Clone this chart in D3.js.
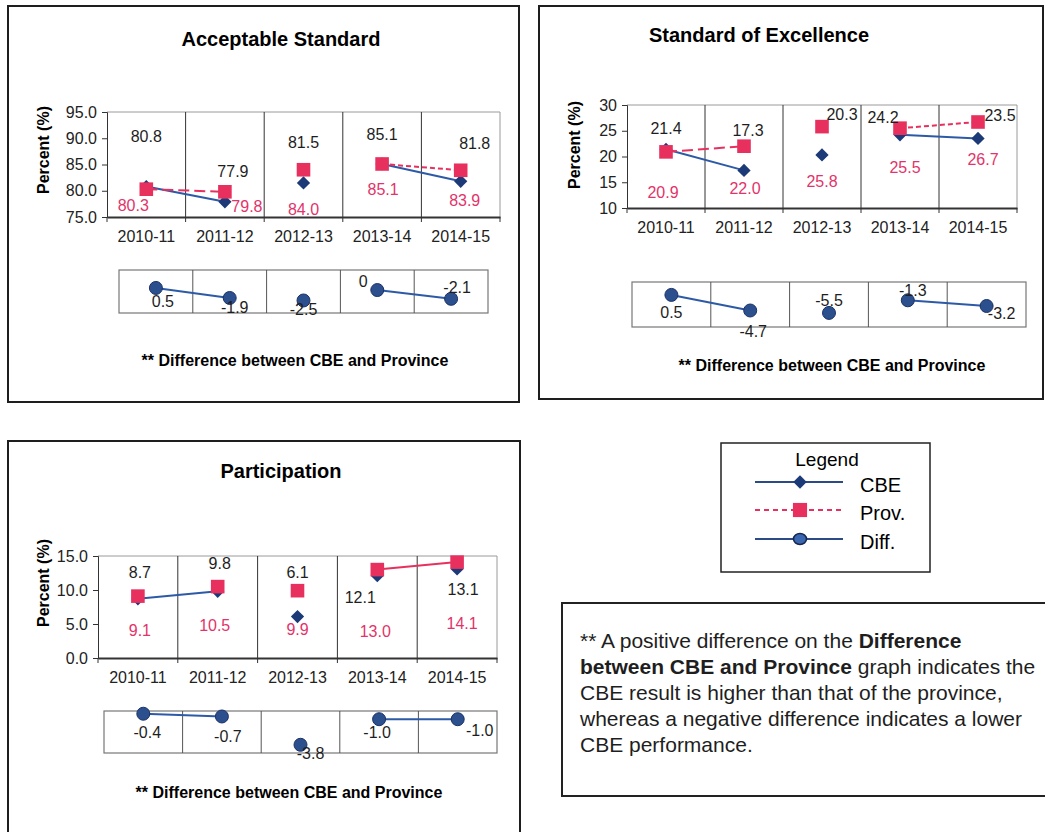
<!DOCTYPE html>
<html>
<head>
<meta charset="utf-8">
<script src="https://cdn.jsdelivr.net/npm/d3@7"></script>
<style>
  body { margin: 0; background: #fff; }
  text { font-family: "Liberation Sans", Arial, sans-serif; }
</style>
</head>
<body>
<script>
// categories
var years = ["2010-11", "2011-12", "2012-13", "2013-14", "2014-15"];

// Acceptable Standard
var accCBE  = [80.8, 77.9, 81.5, 85.1, 81.8];
var accProv = [80.3, 79.8, 84.0, 85.1, 83.9];
var accDiff = [0.5, -1.9, -2.5, 0, -2.1];
var accTicks = [75, 80, 85, 90, 95];

// Standard of Excellence
var excCBE  = [21.4, 17.3, 20.3, 24.2, 23.5];
var excProv = [20.9, 22.0, 25.8, 25.5, 26.7];
var excDiff = [0.5, -4.7, -5.5, -1.3, -3.2];
var excTicks = [10, 15, 20, 25, 30];

// Participation
var parCBE  = [8.7, 9.8, 6.1, 12.1, 13.1];
var parProv = [9.1, 10.5, 9.9, 13.0, 14.1];
var parDiff = [-0.4, -0.7, -3.8, -1.0, -1.0];
var parTicks = [0, 5, 10, 15];

var navy = "#1c3a78", blue = "#2d5aa6", pink = "#e8305f", pinkText = "#e2336a";

var svg = d3.select("body")
  .append("svg")
  .attr("width", 1045)
  .attr("height", 832);

function fmt1(d) { return d.toFixed(1); }
function fmtDiff(d) { return d === 0 ? "0" : d.toFixed(1); }

function drawPanel(p) {
  var g = svg.append("g");

  // outer frame
  g.append("rect")
    .attr("x", p.box[0]).attr("y", p.box[1])
    .attr("width", p.box[2] - p.box[0]).attr("height", p.box[3] - p.box[1])
    .attr("fill", "none").attr("stroke", "#1e1e1e").attr("stroke-width", 2);

  g.append("text")
    .attr("x", p.titleX).attr("y", p.titleY)
    .attr("text-anchor", "middle")
    .attr("font-size", 20).attr("font-weight", "bold")
    .text(p.title);

  // main chart
  var x = d3.scaleBand().domain(years).range([p.plot[0], p.plot[1]]);
  var y = d3.scaleLinear().domain(p.domain).range([p.plot[3], p.plot[2]]);
  var cx = function (i) { return x(years[i]) + x.bandwidth() / 2; };

  // top / right frame
  g.append("path")
    .attr("d", "M" + p.plot[0] + "," + p.plot[2] + "H" + p.plot[1] + "V" + p.plot[3])
    .attr("fill", "none").attr("stroke", "#9a9a9a").attr("stroke-width", 1);

  // category separators
  g.selectAll(".sep")
    .data(years.slice(1))
    .enter().append("line")
    .attr("x1", function (d) { return x(d); })
    .attr("x2", function (d) { return x(d); })
    .attr("y1", p.plot[2]).attr("y2", p.plot[3] + 5)
    .attr("stroke", "#333").attr("stroke-width", 1);

  var yAxis = d3.axisLeft(y).tickValues(p.ticks).tickFormat(p.tickFmt).tickSize(5).tickPadding(5);
  var ya = g.append("g").attr("transform", "translate(" + p.plot[0] + ",0)").call(yAxis);
  ya.selectAll("text").attr("font-size", 16).attr("fill", "#222");
  ya.select(".domain").attr("stroke", "#333");
  ya.selectAll(".tick line").attr("stroke", "#333");

  var xAxis = d3.axisBottom(x).tickSize(0).tickPadding(14);
  var xa = g.append("g").attr("transform", "translate(0," + p.plot[3] + ")").call(xAxis);
  xa.selectAll("text").attr("font-size", 16).attr("fill", "#222");
  xa.select(".domain").attr("stroke", "#333").attr("stroke-width", 2);
  g.selectAll(".xt")
    .data([p.plot[0], p.plot[1]])
    .enter().append("line")
    .attr("x1", function (d) { return d; }).attr("x2", function (d) { return d; })
    .attr("y1", p.plot[3]).attr("y2", p.plot[3] + 5)
    .attr("stroke", "#333");

  g.append("text")
    .attr("transform", "translate(" + p.yLabel[0] + "," + p.yLabel[1] + ") rotate(-90)")
    .attr("text-anchor", "middle").attr("dominant-baseline", "central")
    .attr("font-size", 16).attr("font-weight", "bold")
    .text("Percent (%)");

  var line = d3.line()
    .x(function (d) { return cx(d.i); })
    .y(function (d) { return y(d.v); });

  // CBE lines and diamonds
  p.cbeSegs.forEach(function (s) {
    g.append("path")
      .attr("d", line([{ i: s[0], v: p.cbe[s[0]] }, { i: s[1], v: p.cbe[s[1]] }]))
      .attr("fill", "none").attr("stroke", blue).attr("stroke-width", 2);
  });
  g.selectAll(".cbe")
    .data(p.cbe)
    .enter().append("path")
    .attr("d", d3.symbol(d3.symbolSquare, 88))
    .attr("transform", function (d, i) { return "translate(" + cx(i) + "," + y(d) + ") rotate(45)"; })
    .attr("fill", navy);

  // Province lines and squares
  p.provSegs.forEach(function (s) {
    g.append("path")
      .attr("d", line([{ i: s.a, v: p.prov[s.a] }, { i: s.b, v: p.prov[s.b] }]))
      .attr("fill", "none").attr("stroke", pink).attr("stroke-width", 2)
      .attr("stroke-dasharray", s.dash);
  });
  g.selectAll(".prov")
    .data(p.prov)
    .enter().append("path")
    .attr("d", d3.symbol(d3.symbolSquare, 185))
    .attr("transform", function (d, i) { return "translate(" + cx(i) + "," + y(d) + ")"; })
    .attr("fill", pink);

  // data labels
  g.selectAll(".cbeLab")
    .data(p.cbe)
    .enter().append("text")
    .attr("x", function (d, i) { return cx(i) + p.cbeOff[i][0]; })
    .attr("y", function (d, i) { return y(d) + p.cbeOff[i][1]; })
    .attr("text-anchor", "middle").attr("dominant-baseline", "central")
    .attr("font-size", 16).attr("fill", "#1e1e1e")
    .text(fmt1);
  g.selectAll(".provLab")
    .data(p.prov)
    .enter().append("text")
    .attr("x", function (d, i) { return cx(i) + p.provOff[i][0]; })
    .attr("y", function (d, i) { return y(d) + p.provOff[i][1]; })
    .attr("text-anchor", "middle").attr("dominant-baseline", "central")
    .attr("font-size", 16).attr("fill", pinkText)
    .text(fmt1);

  // difference strip
  var dx = d3.scaleBand().domain(years).range([p.diffBox[0], p.diffBox[1]]);
  var dy = d3.scaleLinear().domain(p.diffDomain).range([p.diffBox[3], p.diffBox[2]]);
  var dcx = function (i) { return dx(years[i]) + dx.bandwidth() / 2; };

  g.append("rect")
    .attr("x", p.diffBox[0]).attr("y", p.diffBox[2])
    .attr("width", p.diffBox[1] - p.diffBox[0]).attr("height", p.diffBox[3] - p.diffBox[2])
    .attr("fill", "none").attr("stroke", "#777").attr("stroke-width", 1.2);
  g.selectAll(".dsep")
    .data(years.slice(1))
    .enter().append("line")
    .attr("x1", function (d) { return dx(d); }).attr("x2", function (d) { return dx(d); })
    .attr("y1", p.diffBox[2]).attr("y2", p.diffBox[3])
    .attr("stroke", "#555").attr("stroke-width", 1);

  var dline = d3.line()
    .x(function (d) { return dcx(d.i); })
    .y(function (d) { return dy(d.v); });
  p.diffSegs.forEach(function (s) {
    g.append("path")
      .attr("d", dline([{ i: s[0], v: p.diff[s[0]] }, { i: s[1], v: p.diff[s[1]] }]))
      .attr("fill", "none").attr("stroke", blue).attr("stroke-width", 2);
  });
  g.selectAll(".dot")
    .data(p.diff)
    .enter().append("circle")
    .attr("cx", function (d, i) { return dcx(i); })
    .attr("cy", function (d) { return dy(d); })
    .attr("r", 6.5)
    .attr("fill", "#2c4f8e").attr("stroke", "#1b3266").attr("stroke-width", 1);
  g.selectAll(".dLab")
    .data(p.diff)
    .enter().append("text")
    .attr("x", function (d, i) { return dcx(i) + p.diffOff[i][0]; })
    .attr("y", function (d, i) { return dy(d) + p.diffOff[i][1]; })
    .attr("text-anchor", "middle").attr("dominant-baseline", "central")
    .attr("font-size", 16).attr("fill", "#1e1e1e")
    .text(fmtDiff);

  g.append("text")
    .attr("x", p.noteX).attr("y", p.noteY)
    .attr("text-anchor", "middle").attr("dominant-baseline", "central")
    .attr("font-size", 16).attr("font-weight", "bold")
    .text("** Difference between CBE and Province");
}

drawPanel({
  title: "Acceptable Standard", titleX: 281, titleY: 46,
  box: [8, 6, 519, 402],
  plot: [107, 500, 112, 217],
  domain: [75, 95], ticks: accTicks, tickFmt: fmt1,
  yLabel: [43, 150],
  cbe: accCBE, prov: accProv, diff: accDiff,
  cbeSegs: [[0, 1], [3, 4]],
  provSegs: [{ a: 0, b: 1, dash: "11,5" }, { a: 3, b: 4, dash: "5,3" }],
  cbeOff: [[0, -50], [8, -30], [0, -40], [0, -29], [14, -38]],
  provOff: [[-13, 16], [22, 15], [0, 40], [1, 26], [4, 30]],
  diffBox: [119, 488, 270, 313], diffDomain: [-5.5, 4.8],
  diffSegs: [[0, 1], [3, 4]],
  diffOff: [[7, 14], [5, 10], [0, 9], [-14, -9], [6, -11]],
  noteX: 295, noteY: 360
});

drawPanel({
  title: "Standard of Excellence", titleX: 759, titleY: 42,
  box: [539, 6, 1043, 399],
  plot: [627, 1017, 105, 208],
  domain: [10, 30], ticks: excTicks, tickFmt: d3.format("d"),
  yLabel: [574, 145],
  cbe: excCBE, prov: excProv, diff: excDiff,
  cbeSegs: [[0, 1], [3, 4]],
  provSegs: [{ a: 0, b: 1, dash: "11,5" }, { a: 3, b: 4, dash: "5,3" }],
  cbeOff: [[0, -21], [4, -40], [20, -40], [-17, -17], [22, -23]],
  provOff: [[-3, 41], [1, 42], [0, 55], [5, 39], [5, 38]],
  diffBox: [632, 1026, 282, 327], diffDomain: [-10.2, 4.8],
  diffSegs: [[0, 1], [3, 4]],
  diffOff: [[0, 18], [3, 21], [0, -12], [5, -10], [15, 7]],
  noteX: 832, noteY: 365
});

drawPanel({
  title: "Participation", titleX: 281, titleY: 478,
  box: [8, 441, 520, 845],
  plot: [98, 497, 556, 658],
  domain: [0, 15], ticks: parTicks, tickFmt: fmt1,
  yLabel: [43, 583],
  cbe: parCBE, prov: parProv, diff: parDiff,
  cbeSegs: [[0, 1]],
  provSegs: [{ a: 3, b: 4, dash: null }],
  cbeOff: [[2, -26], [2, -28], [0, -44], [-17, 22], [6, 21]],
  provOff: [[2, 34], [-3, 39], [0, 39], [-2, 62], [5, 61]],
  diffBox: [104, 497, 711, 753], diffDomain: [-4.7, -0.1],
  diffSegs: [[0, 1], [3, 4]],
  diffOff: [[4, 19], [6, 20], [10, 9], [-2, 13], [22, 11]],
  noteX: 289, noteY: 792
});

// legend
var leg = svg.append("g");
leg.append("rect")
  .attr("x", 721).attr("y", 443).attr("width", 209).attr("height", 129)
  .attr("fill", "none").attr("stroke", "#222").attr("stroke-width", 1.5);
leg.append("text")
  .attr("x", 827).attr("y", 459)
  .attr("text-anchor", "middle").attr("dominant-baseline", "central")
  .attr("font-size", 19).text("Legend");

var legendItems = [
  { name: "CBE", y: 482 },
  { name: "Prov.", y: 510 },
  { name: "Diff.", y: 539 }
];
legendItems.forEach(function (d, i) {
  leg.append("line")
    .attr("x1", 755).attr("x2", 843).attr("y1", d.y).attr("y2", d.y)
    .attr("stroke", i === 1 ? pink : "#2b4a86").attr("stroke-width", 2)
    .attr("stroke-dasharray", i === 1 ? "5,4" : null);
  if (i === 0) {
    leg.append("path").attr("d", d3.symbol(d3.symbolSquare, 90))
      .attr("transform", "translate(800," + d.y + ") rotate(45)").attr("fill", navy);
  } else if (i === 1) {
    leg.append("path").attr("d", d3.symbol(d3.symbolSquare, 200))
      .attr("transform", "translate(800," + d.y + ")").attr("fill", pink);
  } else {
    leg.append("ellipse").attr("cx", 800).attr("cy", d.y).attr("rx", 6.5).attr("ry", 5.5)
      .attr("fill", "#3b66b0").attr("stroke", "#15264f").attr("stroke-width", 1.5);
  }
  leg.append("text")
    .attr("x", 860).attr("y", d.y + 3)
    .attr("dominant-baseline", "central")
    .attr("font-size", 20).text(d.name);
});

// explanatory note
var note = svg.append("g");
note.append("rect")
  .attr("x", 562).attr("y", 603).attr("width", 495).attr("height", 193)
  .attr("fill", "none").attr("stroke", "#222").attr("stroke-width", 2);
var noteLines = [
  [["** A positive difference on the ", false], ["Difference", true]],
  [["between CBE and Province", true], [" graph indicates the", false]],
  [["CBE result is higher than that of the province,", false]],
  [["whereas a negative difference indicates a lower", false]],
  [["CBE performance.", false]]
];
noteLines.forEach(function (parts, i) {
  var t = note.append("text")
    .attr("x", 580).attr("y", 648 + i * 26)
    .attr("font-size", 21).attr("fill", "#1e1e1e");
  parts.forEach(function (p) {
    t.append("tspan").attr("font-weight", p[1] ? "bold" : null).text(p[0]);
  });
});
</script>
</body>
</html>
